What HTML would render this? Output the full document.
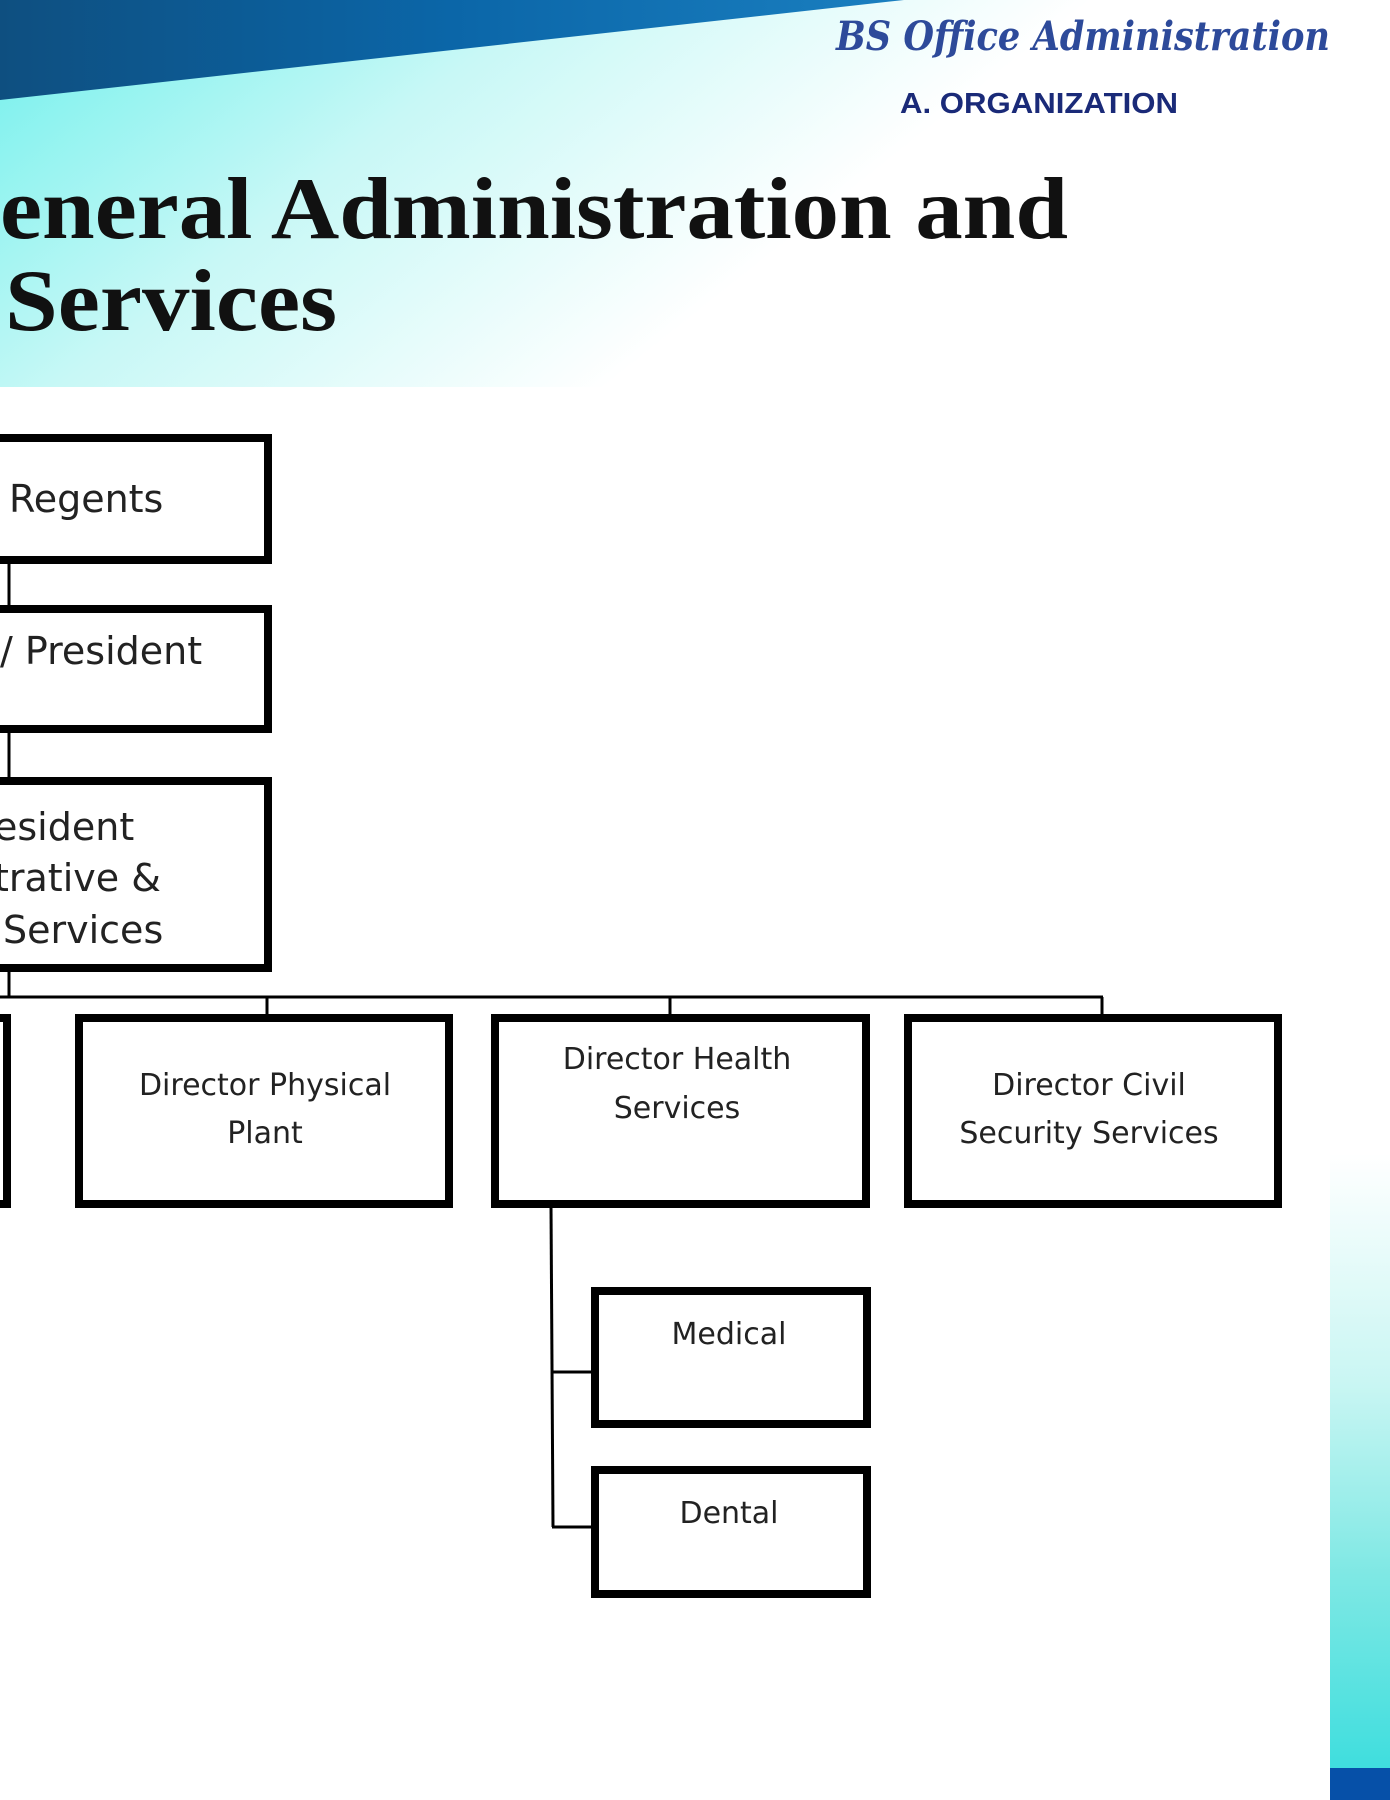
<!DOCTYPE html>
<html><head><meta charset="utf-8"><style>
html,body{margin:0;padding:0;width:1390px;height:1800px;overflow:hidden;background:#fff}
svg{display:block}
</style></head><body>
<svg width="1390" height="1800" viewBox="0 0 1390 1800" xmlns="http://www.w3.org/2000/svg">
<defs>
<linearGradient id="bg" x1="0" y1="0" x2="1" y2="0.35">
<stop offset="0" stop-color="#6ff0ec"/>
<stop offset="0.35" stop-color="#c8f8f6"/>
<stop offset="0.7" stop-color="#ffffff"/>
</linearGradient>
<linearGradient id="band" x1="0" y1="0" x2="1" y2="0">
<stop offset="0" stop-color="#0e4f80"/>
<stop offset="0.5" stop-color="#0b66a8"/>
<stop offset="1" stop-color="#1a7fc0"/>
</linearGradient>
<linearGradient id="strip" x1="0" y1="0" x2="0" y2="1">
<stop offset="0" stop-color="#ffffff"/>
<stop offset="0.2" stop-color="#ffffff"/>
<stop offset="0.5" stop-color="#c9f6f3"/>
<stop offset="0.75" stop-color="#7ee8e4"/>
<stop offset="1" stop-color="#3fdede"/>
</linearGradient>
</defs>
<rect x="0" y="0" width="1390" height="387" fill="url(#bg)"/>
<polygon points="0,0 904,0 0,100" fill="url(#band)"/>
<rect x="1330" y="1000" width="60" height="768" fill="url(#strip)"/>
<rect x="1330" y="1768" width="60" height="32" fill="#0650a8"/>

<text x="836" y="50" font-family="'DejaVu Serif','Liberation Serif',serif" font-style="italic" font-weight="bold" font-size="40" fill="#2d4a9a" textLength="494" lengthAdjust="spacingAndGlyphs">BS Office Administration</text>
<text x="900" y="113" font-family="'Liberation Sans',sans-serif" font-weight="bold" font-size="29" fill="#1a2a78" textLength="278" lengthAdjust="spacingAndGlyphs">A. ORGANIZATION</text>
<text x="0" y="238" font-family="'Liberation Serif',serif" font-weight="bold" font-size="88" fill="#111" textLength="1068" lengthAdjust="spacingAndGlyphs">eneral Administration and</text>
<text x="5" y="330" font-family="'Liberation Serif',serif" font-weight="bold" font-size="88" fill="#111" textLength="332" lengthAdjust="spacingAndGlyphs">Services</text>

<g fill="none" stroke="#000">
<g stroke-width="8">
<rect x="-20" y="438" width="288" height="122"/>
<rect x="-20" y="609" width="288" height="120"/>
<rect x="-20" y="781" width="288" height="187"/>
<rect x="-20" y="1018" width="27" height="186"/>
<rect x="79" y="1018" width="370" height="186"/>
<rect x="495" y="1018" width="371" height="186"/>
<rect x="908" y="1018" width="370" height="186"/>
<rect x="595" y="1291" width="272" height="133"/>
<rect x="595" y="1470" width="272" height="124"/>
</g>
<g stroke-width="3">
<line x1="9" y1="560" x2="9" y2="609"/>
<line x1="9" y1="729" x2="9" y2="781"/>
<line x1="9" y1="968" x2="9" y2="997"/>
<line x1="0" y1="997" x2="1103" y2="997"/>
<line x1="267" y1="997" x2="267" y2="1016"/>
<line x1="670" y1="997" x2="670" y2="1016"/>
<line x1="1102" y1="997" x2="1102" y2="1016"/>
<line x1="551" y1="1206" x2="553" y2="1527"/>
<line x1="552" y1="1372" x2="592" y2="1372"/>
<line x1="552" y1="1527" x2="592" y2="1527"/>
</g>
</g>

<g font-family="'DejaVu Sans','Liberation Sans',sans-serif" fill="#222">
<text x="9" y="512" font-size="38">Regents</text>
<text x="0" y="664" font-size="38">/ President</text>
<text x="-6" y="840" font-size="38">esident</text>
<text x="-6" y="891" font-size="38">trative &amp;</text>
<text x="3" y="943" font-size="38">Services</text>
<g font-size="30" text-anchor="middle">
<text x="265" y="1095">Director Physical</text>
<text x="265" y="1143">Plant</text>
<text x="677" y="1069">Director Health</text>
<text x="677" y="1118">Services</text>
<text x="1089" y="1095">Director Civil</text>
<text x="1089" y="1143">Security Services</text>
<text x="729" y="1344">Medical</text>
<text x="729" y="1523">Dental</text>
</g>
</g>
</svg>
</body></html>
